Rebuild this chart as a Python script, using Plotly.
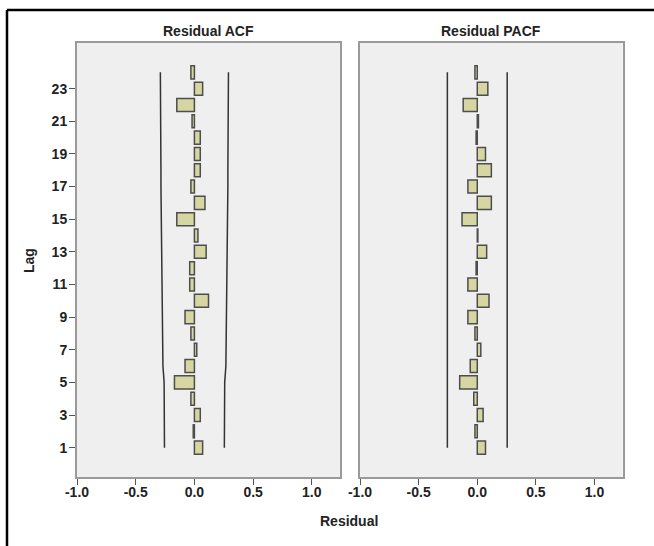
import plotly.graph_objects as go

W, H = 654, 546

lags = list(range(1, 25))
acf = [0.07, -0.01, 0.05, -0.03, -0.17, -0.08, 0.02, -0.03, -0.08, 0.12, -0.04, -0.04,
       0.10, 0.03, -0.15, 0.09, -0.03, 0.05, 0.05, 0.05, -0.02, -0.15, 0.07, -0.03]
pacf = [0.07, -0.02, 0.05, -0.03, -0.15, -0.06, 0.03, -0.02, -0.08, 0.10, -0.08, -0.01,
        0.08, 0.005, -0.13, 0.12, -0.08, 0.12, 0.07, -0.01, 0.01, -0.12, 0.09, -0.02]
acf_bound = [0.255, 0.256, 0.256, 0.257, 0.258, 0.268, 0.270, 0.271, 0.272, 0.275, 0.278, 0.278,
             0.279, 0.281, 0.281, 0.284, 0.285, 0.285, 0.286, 0.286, 0.286, 0.286, 0.290, 0.290]
pacf_bound = [0.255] * 24
x_ticks = [-1.0, -0.5, 0.0, 0.5, 1.0]
y_ticks = list(range(1, 24, 2))

BAR_FILL = "#d6d6a2"
BAR_LINE = "#4d4d4d"
BOUND = "#333333"
FONT = "Liberation Sans"

fig = go.Figure()

for i, (vals, bound) in enumerate([(acf, acf_bound), (pacf, pacf_bound)]):
    xa = "x" if i == 0 else "x2"
    ya = "y" if i == 0 else "y2"
    fig.add_trace(go.Bar(x=vals, y=lags, orientation="h", width=0.8,
                         marker=dict(color=BAR_FILL, line=dict(color=BAR_LINE, width=1.5)),
                         xaxis=xa, yaxis=ya, showlegend=False))
    fig.add_trace(go.Scatter(x=bound, y=lags, mode="lines",
                             line=dict(color=BOUND, width=1.5),
                             xaxis=xa, yaxis=ya, showlegend=False))
    fig.add_trace(go.Scatter(x=[-b for b in bound], y=lags, mode="lines",
                             line=dict(color=BOUND, width=1.5),
                             xaxis=xa, yaxis=ya, showlegend=False))

tick_font = dict(family=FONT, size=14, color="#222", weight="bold")
ydom = [(H - 477) / H, (H - 43) / H]
common_x = dict(range=[-1.0, 1.24], tickvals=x_ticks, ticktext=[f"{v:.1f}" for v in x_ticks],
                showgrid=False, zeroline=False, ticks="outside", ticklen=6, tickwidth=1.2,
                tickcolor="#555", showline=True, linecolor="#9a9a9a", linewidth=2, mirror=True,
                automargin=False, ticklabelstandoff=-5,
                tickfont=tick_font, fixedrange=True)
common_y = dict(range=[-0.8, 25.8], showgrid=False, zeroline=False, showline=True,
                linecolor="#9a9a9a", linewidth=2, mirror=True, fixedrange=True, automargin=False)

ann_font = dict(size=14, family=FONT, color="#222", weight="bold")

fig.update_layout(
    width=W, height=H, margin=dict(l=0, r=0, t=0, b=0, autoexpand=False),
    paper_bgcolor="white", plot_bgcolor="#efefef", barmode="overlay", bargap=0.2,
    xaxis=dict(domain=[77 / W, 340 / W], anchor="y", **common_x),
    xaxis2=dict(domain=[360 / W, 622.7 / W], anchor="y2", **common_x),
    yaxis=dict(domain=ydom, anchor="x", tickvals=y_ticks, ticks="outside", ticklen=6,
               tickwidth=1.2, tickcolor="#555", ticklabelstandoff=-1,
               tickfont=tick_font, **common_y),
    yaxis2=dict(domain=ydom, anchor="x2", showticklabels=False, ticks="", **common_y),
    font=dict(family=FONT, color="#222"),
    annotations=[
        dict(text="Residual ACF", x=(77 + 340) / 2 / W, y=(H - 31) / H, xref="paper", yref="paper",
             xanchor="center", yanchor="middle", showarrow=False, font=ann_font),
        dict(text="Residual PACF", x=(360 + 622.7) / 2 / W, y=(H - 31) / H, xref="paper", yref="paper",
             xanchor="center", yanchor="middle", showarrow=False, font=ann_font),
        dict(text="Residual", x=349 / W, y=(H - 521) / H, xref="paper", yref="paper",
             xanchor="center", yanchor="middle", showarrow=False, font=ann_font),
        dict(text="Lag", x=29 / W, y=(H - 261) / H, xref="paper", yref="paper", textangle=-90,
             xanchor="center", yanchor="middle", showarrow=False, font=ann_font),
    ],
    shapes=[
        dict(type="line", xref="paper", yref="paper", x0=7 / W, x1=1.0, y0=(H - 10) / H, y1=(H - 10) / H,
             line=dict(color="black", width=2.5)),
        dict(type="line", xref="paper", yref="paper", x0=7 / W, x1=7 / W, y0=0, y1=(H - 10) / H,
             line=dict(color="black", width=2.5)),
    ],
)

fig.write_html("out.html")
